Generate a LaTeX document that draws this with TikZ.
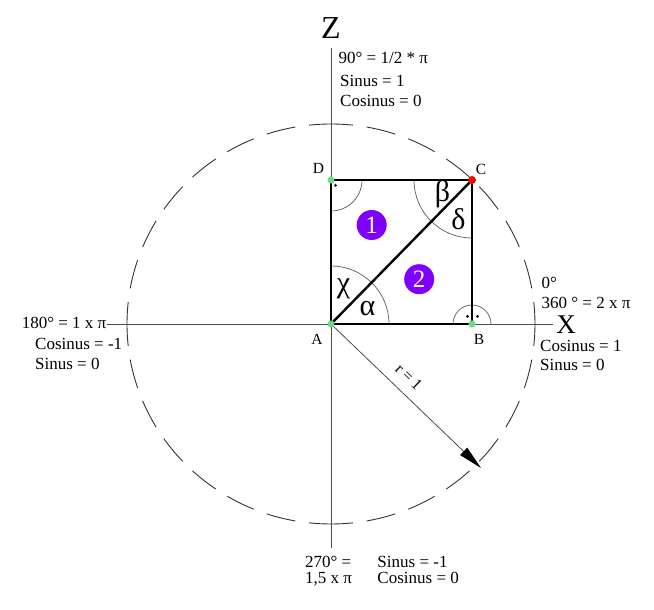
\documentclass[tikz,border=0pt]{standalone}
\usepackage{fontspec}
\setmainfont{Liberation Serif}
\usetikzlibrary{arrows.meta}
\definecolor{ptgreen}{RGB}{102,221,136}
\definecolor{ptpurple}{RGB}{128,0,255}
\begin{document}
\begin{tikzpicture}[x=1pt,y=1pt,
  lbl/.style={inner sep=0pt,font=\fontsize{17}{20}\selectfont},
  ptlbl/.style={inner sep=0pt,font=\fontsize{15.5}{18}\selectfont},
  greek/.style={inner sep=0pt,font=\fontsize{30}{34}\selectfont},
  axislbl/.style={inner sep=0pt},
  axisline/.style={draw=black!70,line width=0.9pt},
  edgeline/.style={draw=black,line width=2.4pt},
  anglearc/.style={draw=black!65,line width=0.7pt},
  circdash/.style={draw=black!80,line width=0.9pt,dash pattern=on 29.5pt off 13.76pt,dash phase=7.5pt},
  ptdot/.style={circle,fill=ptgreen,inner sep=0pt,minimum size=7pt},
  numball/.style={circle,fill=ptpurple,text=white,inner sep=0pt,minimum size=30pt,font=\fontsize{25}{27}\selectfont},
  smalldot/.style={circle,fill=black,inner sep=0pt,minimum size=3pt}
]
\useasboundingbox (-331,-286) rectangle (323,324);

% dashed circle, drawn as four quarters
\foreach \a in {0,90,180,270}{
  \draw[circdash] ({204*cos(\a)},{200*sin(\a)}) arc[start angle=\a,delta angle=90,x radius=204,y radius=200];
}

% points
\coordinate (A) at (0,0);
\coordinate (B) at (141,0);
\coordinate (C) at (141,144);
\coordinate (D) at (0,144);
\coordinate (xl) at (-224,0);
\coordinate (xr) at (222,0);
\coordinate (zt) at (0,276);
\coordinate (zb) at (0,-224);
\coordinate (rtip) at (150,-144);

% axes
\draw[axisline] (xl) -- (xr);
\draw[axisline] (zb) -- (zt);

% radius arrow
\draw[draw=black!70,line width=0.8pt,-{Triangle[length=24pt,width=10pt,color=black,fill=black]}] (A) -- (rtip);
\node[inner sep=0pt,rotate=-44,font=\fontsize{16}{18}\selectfont] (rlbl) at (78,-53) {r = 1};

% angle arcs
\draw[anglearc] (58,0) arc[start angle=0,end angle=90,radius=58];
\draw[anglearc] (83,144) arc[start angle=180,end angle=270,radius=58];
\draw[anglearc] (31,144) arc[start angle=0,end angle=-90,radius=31];
\draw[anglearc] (160,0) arc[start angle=0,end angle=180,radius=19];

% square and diagonal
\draw[edgeline] (A) -- (B);
\draw[edgeline] (B) -- (C);
\draw[edgeline] (C) -- (D);
\draw[edgeline] (D) -- (A);
\draw[edgeline] (A) -- (C);

% right-angle dots
\node[smalldot] (dd) at (4.5,138.5) {};
\node[smalldot] (bd1) at (136.5,7.5) {};
\node[smalldot] (bd2) at (146.5,7.5) {};

% point dots
\node[ptdot] (pA) at (A) {};
\node[ptdot] (pB) at (B) {};
\node[ptdot] (pD) at (D) {};
\node[circle,fill=red,inner sep=0pt,minimum size=8pt] (pC) at (C) {};

% point labels
\node[ptlbl,anchor=base] (lD) at (-12.5,150.5) {D};
\node[ptlbl,anchor=base] (lC) at (150,149) {C};
\node[ptlbl,anchor=base] (lA) at (-14,-21) {A};
\node[ptlbl,anchor=base] (lB) at (148,-21) {B};

% greek letters
\node[greek] (beta) at (111.5,130) {β};
\node[greek] (delta) at (127.5,105) {δ};
\node[greek] (chi) at (12.5,35.5) {χ};
\node[greek] (alpha) at (36.5,15.5) {α};

% numbered balls
\node[numball] (n1) at (40.7,99) {1};
\node[numball] (n2) at (88.2,44.8) {2};

% axis names
\node[axislbl,font=\fontsize{32}{34}\selectfont] (Z) at (0,296) {Z};
\node[axislbl,font=\fontsize{27}{29}\selectfont] (X) at (235,-1) {X};

% top labels
\node[lbl,anchor=base west] (t1) at (7.5,260.7) {90° = 1/2 * π};
\node[lbl,anchor=base west] (t2) at (9,237.3) {Sinus = 1};
\node[lbl,anchor=base west] (t3) at (9,217.3) {Cosinus = 0};

% left labels
\node[lbl,anchor=base east] (l1) at (-224.5,-4.3) {180° = 1 x π};
\node[lbl,anchor=base west] (l2) at (-296,-25.5) {Cosinus = -1};
\node[lbl,anchor=base west] (l3) at (-296,-46) {Sinus = 0};

% right labels
\node[lbl,anchor=base west] (r1) at (210.5,35.7) {0°};
\node[lbl,anchor=base west] (r2) at (210.5,15.7) {360 ° = 2 x π};
\node[lbl,anchor=base west] (r3) at (209,-27.7) {Cosinus = 1};
\node[lbl,anchor=base west] (r4) at (209,-47) {Sinus = 0};

% bottom labels
\node[lbl,anchor=base west] (b1) at (-26,-243.3) {270° =};
\node[lbl,anchor=base west] (b2) at (46.3,-243.3) {Sinus = -1};
\node[lbl,anchor=base west] (b3) at (-26,-259.3) {1,5 x π};
\node[lbl,anchor=base west] (b4) at (46.3,-259.3) {Cosinus = 0};
\end{tikzpicture}
\end{document}
